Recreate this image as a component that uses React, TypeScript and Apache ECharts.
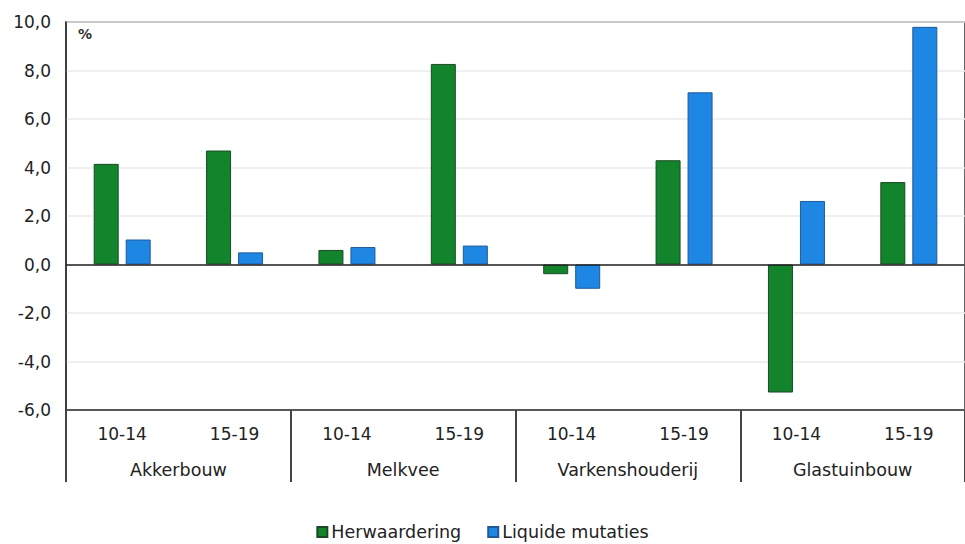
import React, { useEffect, useRef } from "react";
import * as echarts from "echarts";

const periods = ["10-14", "15-19", "10-14", "15-19", "10-14", "15-19", "10-14", "15-19"];
const sectors = ["Akkerbouw", "Melkvee", "Varkenshouderij", "Glastuinbouw"];
const herwaardering = [4.15, 4.7, 0.6, 8.27, -0.4, 4.3, -5.28, 3.4];
const liquideMutaties = [1.03, 0.5, 0.72, 0.78, -1.0, 7.1, 2.62, 9.8];
const yTicks = { min: -6, max: 10, interval: 2 };

const FONT = "DejaVu Sans";

export default function App() {
  const ref = useRef<HTMLDivElement>(null);
  useEffect(() => {
    if (!ref.current) return;
    const chart = echarts.init(ref.current, undefined, { renderer: "svg" });
    chart.setOption({
      animation: false,
      textStyle: { fontFamily: FONT },
      grid: {
        left: 66,
        right: -5,
        top: 22,
        bottom: 134,
        show: true,
        borderColor: "#333",
        borderWidth: 1.5,
      },
      legend: {
        top: 518,
        left: "center",
        icon: "rect",
        itemWidth: 10,
        itemHeight: 10,
        itemGap: 26,
        textStyle: { fontSize: 17.5, color: "#222", fontFamily: FONT, padding: [0, 0, 0, -1] },
        data: ["Herwaardering", "Liquide mutaties"],
      },
      graphic: [
        {
          type: "text",
          left: 78,
          top: 27,
          style: { text: "%", fontSize: 14, fontWeight: "bold", fill: "#333", fontFamily: FONT },
        },
      ],
      xAxis: [
        {
          type: "category",
          data: periods,
          position: "bottom",
          axisLine: { onZero: false, lineStyle: { color: "#333", width: 1.5 } },
          axisTick: { show: false },
          axisLabel: { interval: 0, margin: 15, fontSize: 17, color: "#222", fontFamily: FONT },
        },
        {
          type: "category",
          data: sectors,
          position: "bottom",
          axisLine: { show: false, onZero: false },
          axisTick: { show: true, interval: 0, length: 72, lineStyle: { color: "#444", width: 2 } },
          axisLabel: { interval: 0, margin: 51, fontSize: 17.5, color: "#222", fontFamily: FONT },
        },
      ],
      yAxis: {
        type: "value",
        min: yTicks.min,
        max: yTicks.max,
        interval: yTicks.interval,
        axisLine: { show: true, lineStyle: { color: "#333", width: 1.5 } },
        axisTick: { show: false },
        splitLine: { show: true, lineStyle: { color: "#ebebeb", width: 1.5 } },
        axisLabel: {
          fontSize: 17,
          color: "#222",
          margin: 15,
          fontFamily: FONT,
          formatter: (v: number) => v.toFixed(1).replace(".", ","),
        },
      },
      series: [
        {
          name: "Herwaardering",
          type: "bar",
          xAxisIndex: 0,
          data: herwaardering,
          barWidth: 25,
          barGap: "28%",
          itemStyle: { color: "#11842c", borderColor: "#1d4a26", borderWidth: 1 },
          markLine: {
            silent: true,
            symbol: "none",
            label: { show: false },
            lineStyle: { color: "#222", type: "solid", width: 1.5 },
            data: [{ yAxis: 0 }],
            z: 10,
          },
        },
        {
          name: "Liquide mutaties",
          type: "bar",
          xAxisIndex: 0,
          data: liquideMutaties,
          barWidth: 25,
          itemStyle: { color: "#1e86e3", borderColor: "#1f5a99", borderWidth: 1 },
        },
      ],
    });
    return () => chart.dispose();
  }, []);
  return (
    <div
      ref={ref}
      style={{ position: "fixed", left: 0, top: 0, width: 965, height: 544, background: "#fff" }}
    />
  );
}
